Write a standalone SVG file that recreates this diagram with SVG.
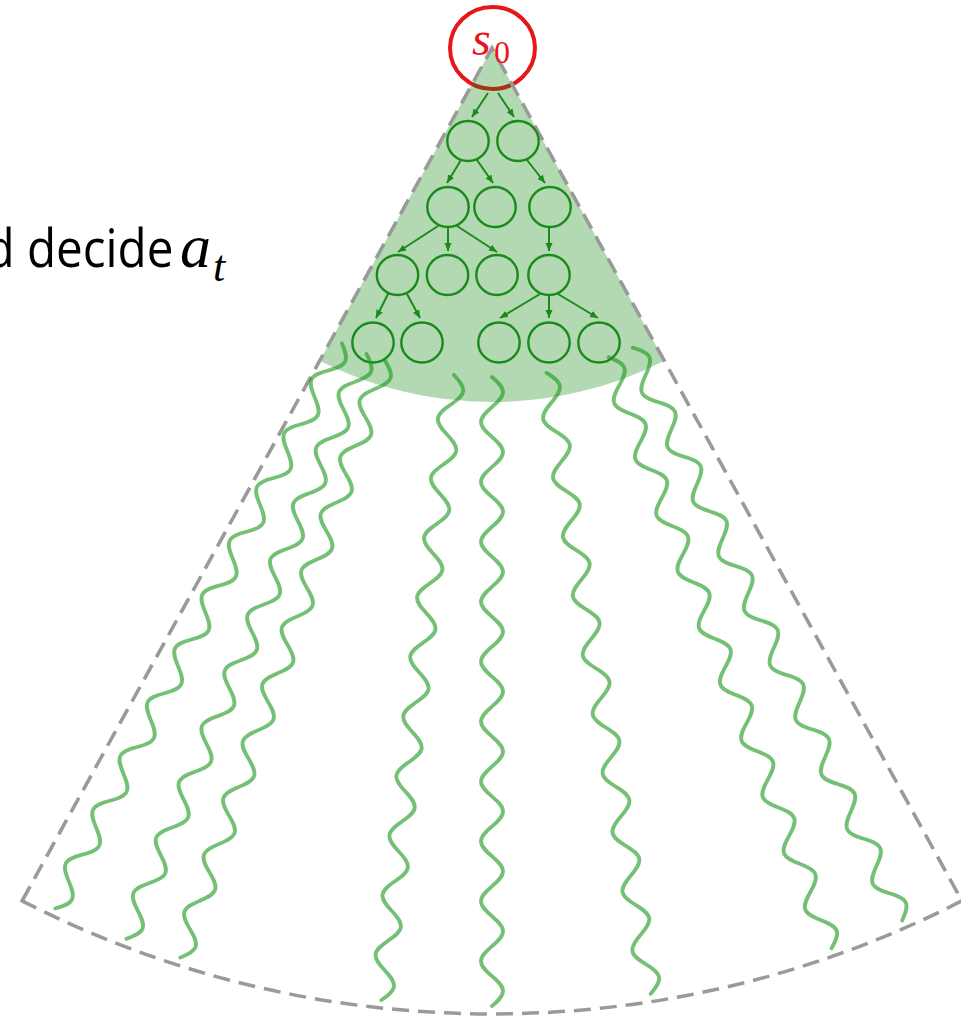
<svg xmlns="http://www.w3.org/2000/svg" xmlns:xlink="http://www.w3.org/1999/xlink" width="961" height="1018" viewBox="0 0 961 1018">
  <style>
    .bound { fill: none; stroke: #9a9a9a; stroke-width: 3.6; stroke-dasharray: 17 9; }
    .fillarea { fill: rgb(0,128,0); fill-opacity: 0.3; stroke: none; }
    .tnode { fill: none; stroke: #1a8a1a; stroke-width: 2.4; }
    .edge { fill: none; stroke: #1a8a1a; stroke-width: 2; marker-end: url(#arr); }
    .wave { fill: none; stroke: #1f9a1f; stroke-opacity: 0.62; stroke-width: 3.8; stroke-linecap: round; }
    .lbl { font-family: "Open Sans", "Noto Sans", sans-serif; fill: #000; }
    .math { font-family: "Liberation Serif", "DejaVu Serif", serif; }
  </style>
  <defs>
    <marker id="arr" markerUnits="userSpaceOnUse" markerWidth="9" markerHeight="8" refX="8" refY="3.5" orient="auto">
      <path d="M0,0 L8,3.5 L0,7 Z" fill="#1a8a1a"/>
    </marker>
    <path id="wave" class="wave" d="M0,341 c5.6,5.05 11,9.89 11,15.52 c0,5.62 -5.4,10.46 -11,15.52 c-5.6,5.05 -11,9.89 -11,15.52 c0,5.62 5.4,10.46 11,15.52 c5.6,5.05 11,9.89 11,15.52 c0,5.62 -5.4,10.46 -11,15.52 c-5.6,5.05 -11,9.89 -11,15.52 c0,5.62 5.4,10.46 11,15.52 c5.6,5.05 11,9.89 11,15.52 c0,5.62 -5.4,10.46 -11,15.52 c-5.6,5.05 -11,9.89 -11,15.52 c0,5.62 5.4,10.46 11,15.52 c5.6,5.05 11,9.89 11,15.52 c0,5.62 -5.4,10.46 -11,15.52 c-5.6,5.05 -11,9.89 -11,15.52 c0,5.62 5.4,10.46 11,15.52 c5.6,5.05 11,9.89 11,15.52 c0,5.62 -5.4,10.46 -11,15.52 c-5.6,5.05 -11,9.89 -11,15.52 c0,5.62 5.4,10.46 11,15.52 c5.6,5.05 11,9.89 11,15.52 c0,5.62 -5.4,10.46 -11,15.52 c-5.6,5.05 -11,9.89 -11,15.52 c0,5.62 5.4,10.46 11,15.52 c5.6,5.05 11,9.89 11,15.52 c0,5.62 -5.4,10.46 -11,15.52 c-5.6,5.05 -11,9.89 -11,15.52 c0,5.62 5.4,10.46 11,15.52 c5.6,5.05 11,9.89 11,15.52 c0,5.62 -5.4,10.46 -11,15.52 c-5.6,5.05 -11,9.89 -11,15.52 c0,5.62 5.4,10.46 11,15.52 c5.6,5.05 11,9.89 11,15.52 c0,5.62 -5.4,10.46 -11,15.52 c-5.6,5.05 -11,9.89 -11,15.52 c0,5.62 5.4,10.46 11,15.52 c5.6,5.05 11,9.89 11,15.52 c0,5.62 -5.4,10.46 -11,15.52 c-5.6,5.05 -11,9.89 -11,15.52 c0,5.62 5.4,10.46 11,15.52 c5.6,5.05 11,9.89 11,15.52 c0,5.62 -5.4,10.46 -11,15.52"/>
  </defs>

  <rect x="0" y="0" width="961" height="1018" fill="#ffffff"/>

  <!-- root node circle -->
  <g id="s0">
    <ellipse cx="492.5" cy="48" rx="42.5" ry="41" fill="none" stroke="#e8161b" stroke-width="4"/>
  </g>

  <!-- search region (squashed sector) -->
  <g id="region" transform="matrix(1 0 0 0.965 0 1.68)">
    <path class="fillarea" d="M492,48 L319.7,372 A367,367 0 0 0 664.3,372 Z"/>
    <path class="bound" d="M22.1,931.8 L492,48 L961.9,931.8 A1001,1001 0 0 1 22.1,931.8 Z"/>
  </g>

  <g id="s0-label">
    <text x="472" y="55" class="math" font-style="italic" font-size="48" fill="#e8161b">s</text>
    <text x="494" y="63" class="math" font-size="32" fill="#e8161b">0</text>
  </g>

  <!-- tree nodes -->
  <g id="n1"><ellipse class="tnode" cx="468" cy="141" rx="20.7" ry="20"/></g>
  <g id="n2"><ellipse class="tnode" cx="518" cy="141" rx="20.7" ry="20"/></g>
  <g id="n3"><ellipse class="tnode" cx="448" cy="207" rx="20.7" ry="20"/></g>
  <g id="n4"><ellipse class="tnode" cx="495" cy="207" rx="20.7" ry="20"/></g>
  <g id="n5"><ellipse class="tnode" cx="550" cy="207" rx="20.7" ry="20"/></g>
  <g id="n6"><ellipse class="tnode" cx="397.5" cy="275" rx="20.7" ry="20"/></g>
  <g id="n7"><ellipse class="tnode" cx="447.5" cy="275" rx="20.7" ry="20"/></g>
  <g id="n8"><ellipse class="tnode" cx="497" cy="275" rx="20.7" ry="20"/></g>
  <g id="n9"><ellipse class="tnode" cx="549" cy="275" rx="20.7" ry="20"/></g>
  <g id="n10"><ellipse class="tnode" cx="373" cy="342.5" rx="20.7" ry="20"/></g>
  <g id="n11"><ellipse class="tnode" cx="422" cy="342.5" rx="20.7" ry="20"/></g>
  <g id="n12"><ellipse class="tnode" cx="499" cy="342.5" rx="20.7" ry="20"/></g>
  <g id="n13"><ellipse class="tnode" cx="549" cy="342.5" rx="20.7" ry="20"/></g>
  <g id="n14"><ellipse class="tnode" cx="599" cy="342.5" rx="20.7" ry="20"/></g>

  <!-- connectors -->
  <g id="connectors">
    <g id="tree-edges">
      <line class="edge" x1="488" y1="93" x2="472" y2="117"/>
      <line class="edge" x1="498" y1="93" x2="514" y2="117"/>
      <line class="edge" x1="461" y1="160" x2="447" y2="183"/>
      <line class="edge" x1="477" y1="160" x2="493" y2="183"/>
      <line class="edge" x1="527" y1="160" x2="545" y2="183"/>
      <line class="edge" x1="438" y1="226" x2="398" y2="252"/>
      <line class="edge" x1="448" y1="227" x2="448" y2="251"/>
      <line class="edge" x1="457" y1="226" x2="497" y2="252"/>
      <line class="edge" x1="549" y1="227" x2="549" y2="251"/>
      <line class="edge" x1="388" y1="294" x2="376" y2="318"/>
      <line class="edge" x1="407" y1="294" x2="420" y2="318"/>
      <line class="edge" x1="540" y1="294" x2="500" y2="318"/>
      <line class="edge" x1="549" y1="295" x2="549" y2="318"/>
      <line class="edge" x1="558" y1="294" x2="598" y2="318"/>
    </g>
    <g id="rollouts" transform="matrix(1 0 0 0.965 0 1.68)">
      <g transform="translate(492,48)">
        <use xlink:href="#wave" transform="rotate(26.1)"/>
        <use xlink:href="#wave" transform="rotate(21.6)"/>
        <use xlink:href="#wave" transform="rotate(18.3)"/>
        <use xlink:href="#wave" transform="rotate(6.4)"/>
        <use xlink:href="#wave" transform="rotate(0)"/>
        <use xlink:href="#wave" transform="rotate(-9.2)"/>
        <use xlink:href="#wave" transform="rotate(-20)"/>
        <use xlink:href="#wave" transform="rotate(-24.4)"/>
      </g>
    </g>
  </g>

  <!-- side label -->
  <g id="label">
    <text x="-14.6" y="267" class="lbl" font-size="53" textLength="188" lengthAdjust="spacingAndGlyphs">d decide</text>
    <text x="180" y="267" class="math" font-style="italic" font-size="62">a</text>
    <text x="213" y="281" class="math" font-style="italic" font-size="44">t</text>
  </g>
</svg>
